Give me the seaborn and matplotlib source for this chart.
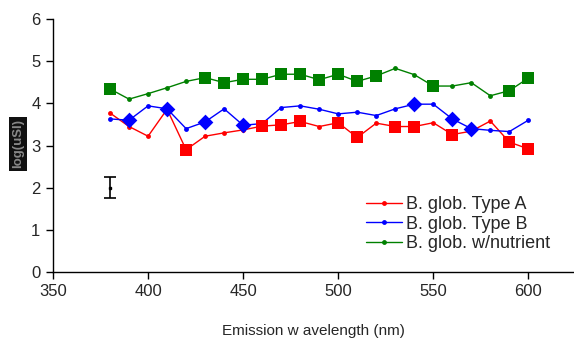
import matplotlib
matplotlib.use("Agg")
import matplotlib.pyplot as plt
import seaborn as sns
import pandas as pd

wavelength = [380, 390, 400, 410, 420, 430, 440, 450, 460, 470, 480, 490,
              500, 510, 520, 530, 540, 550, 560, 570, 580, 590, 600]
type_a = [3.77, 3.45, 3.22, 3.86, 2.90, 3.22, 3.30, 3.37, 3.46, 3.49, 3.57, 3.45,
          3.54, 3.19, 3.53, 3.45, 3.45, 3.54, 3.26, 3.34, 3.58, 3.08, 2.92]
type_b = [3.63, 3.60, 3.94, 3.87, 3.40, 3.56, 3.87, 3.48, 3.52, 3.90, 3.94, 3.86,
          3.75, 3.79, 3.71, 3.87, 3.98, 3.98, 3.63, 3.40, 3.36, 3.33, 3.60]
nutrient = [4.34, 4.10, 4.23, 4.37, 4.52, 4.61, 4.49, 4.57, 4.57, 4.69, 4.69, 4.56,
            4.69, 4.52, 4.65, 4.83, 4.68, 4.41, 4.41, 4.49, 4.18, 4.30, 4.60]
highlight_a = [420, 460, 470, 480, 500, 510, 530, 540, 560, 590, 600]
highlight_b = [390, 410, 430, 450, 540, 560, 570]
highlight_n = [380, 430, 440, 450, 460, 470, 480, 490, 500, 510, 520, 550, 590, 600]
labels = ["B. glob. Type A", "B. glob. Type B", "B. glob. w/nutrient"]
err_x = [380]
err_y = [2.0]
err_e = [0.25]

sns.set_style("white")
plt.rcParams['font.family'] = ['Liberation Sans', 'DejaVu Sans']

fig = plt.figure(figsize=(5.74, 3.39), dpi=100)
ax = fig.add_axes([53/574, 1 - 272/339, 1 - 53/574, (272 - 19)/339])

series = [
    (type_a, highlight_a, "#ff0000", "s", 8),
    (type_b, highlight_b, "#0000ff", "D", 8),
    (nutrient, highlight_n, "#008000", "s", 8),
]
for (vals, hl, col, mk, ms), lab in zip(series, labels):
    df = pd.DataFrame({"wl": wavelength, "v": vals})
    sns.lineplot(data=df, x="wl", y="v", ax=ax, color=col, linewidth=1,
                 marker="o", markersize=3.5, markeredgewidth=0, label=lab)
    dh = df[df["wl"].isin(hl)]
    sns.scatterplot(data=dh, x="wl", y="v", ax=ax, color=col, marker=mk,
                    s=ms**2, linewidth=0, legend=False, zorder=3)

ax.errorbar(err_x, err_y, yerr=err_e, fmt="none", ecolor="black",
            elinewidth=1.2, capsize=4, capthick=1.2)
ax.plot(err_x, err_y, marker="s", color="black", markersize=2)

ax.set_xlim(350, 624)
ax.set_ylim(0, 6)
ax.set_xticks([350, 400, 450, 500, 550, 600])
ax.set_yticks([0, 1, 2, 3, 4, 5, 6])
ax.spines["top"].set_visible(False)
ax.spines["right"].set_visible(False)
for s in ["left", "bottom"]:
    ax.spines[s].set_color("black")
    ax.spines[s].set_linewidth(1)
ax.tick_params(axis="both", direction="out", length=5, width=1, color="black",
               labelsize=12, left=True, bottom=True, pad=4)
ax.set_xlabel("Emission w avelength (nm)", fontsize=11, labelpad=18)
ax.set_ylabel("")
fig.text(18/574, 1 - 144/339, "log(uSI)", rotation=90, ha="center", va="center",
         fontsize=9.5, color="#888888", fontweight="bold",
         bbox=dict(facecolor="#111111", edgecolor="none", pad=2))

leg = ax.legend(loc="upper left", bbox_to_anchor=(366/574, 1 - 196/339),
                bbox_transform=fig.transFigure, frameon=False, fontsize=13,
                handlelength=2.0, handletextpad=0.2, labelspacing=0.15,
                borderpad=0, borderaxespad=0)

fig.savefig("out.png", dpi=100)
